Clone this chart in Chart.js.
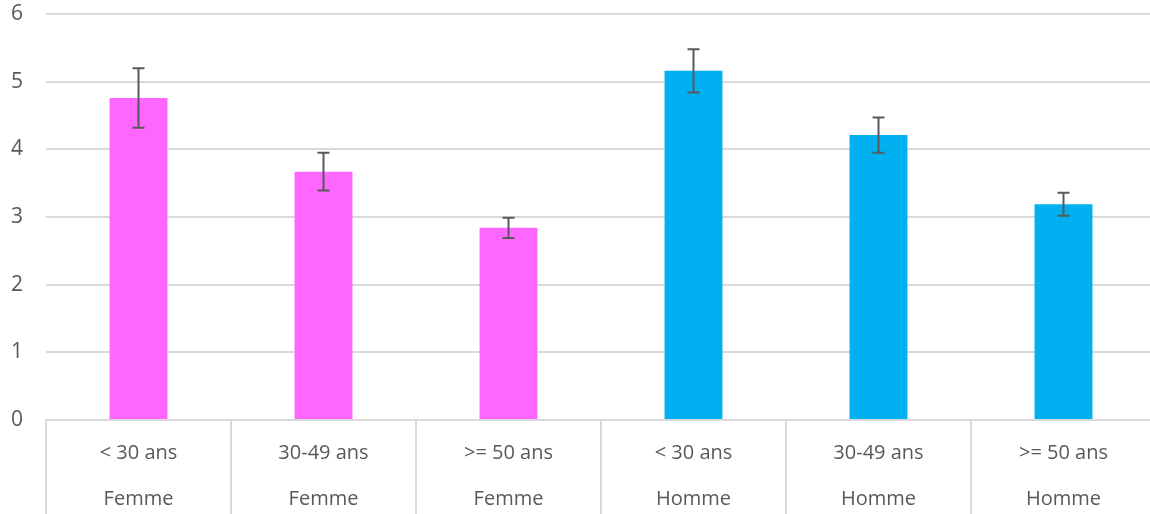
<!DOCTYPE html>
<html>
<head>
<meta charset="utf-8">
<script src="https://cdn.jsdelivr.net/npm/chart.js@4/dist/chart.umd.min.js"></script>
<style>
    body { margin: 0; background: #fff; overflow: hidden; }
    #wrap { width: 1157px; height: 514px; }
</style>
</head>
<body>
<div id="wrap"><canvas id="myChart" width="1157" height="514"></canvas></div>
<script>
// DATA
const ageGroups = ["< 30 ans", "30-49 ans", ">= 50 ans", "< 30 ans", "30-49 ans", ">= 50 ans"];
const sexes = ["Femme", "Femme", "Femme", "Homme", "Homme", "Homme"];
const values = [4.76, 3.67, 2.84, 5.16, 4.21, 3.19];
const errors = [0.44, 0.28, 0.15, 0.32, 0.26, 0.17];
const barColors = ["#FF66FF", "#FF66FF", "#FF66FF", "#00B0F0", "#00B0F0", "#00B0F0"];
const yTicks = [0, 1, 2, 3, 4, 5, 6];

const labels = ageGroups.map((a, i) => [a, sexes[i]]);

// ERROR BARS
const errorBars = {
    id: "errorBars",
    afterDatasetsDraw(chart) {
        const ctx = chart.ctx;
        const yScale = chart.scales.y;
        const meta = chart.getDatasetMeta(0);
        ctx.save();
        ctx.strokeStyle = "#595959";
        ctx.lineWidth = 2;
        meta.data.forEach((bar, i) => {
            const top = yScale.getPixelForValue(values[i] + errors[i]);
            const bottom = yScale.getPixelForValue(values[i] - errors[i]);
            ctx.beginPath();
            ctx.moveTo(bar.x, top);
            ctx.lineTo(bar.x, bottom);
            ctx.moveTo(bar.x - 6, top);
            ctx.lineTo(bar.x + 6, top);
            ctx.moveTo(bar.x - 6, bottom);
            ctx.lineTo(bar.x + 6, bottom);
            ctx.stroke();
        });
        ctx.restore();
    }
};

const ctx = document.getElementById("myChart").getContext("2d");

new Chart(ctx, {
    type: "bar",
    data: {
        labels: labels,
        datasets: [{
            data: values,
            backgroundColor: barColors,
            borderWidth: 0,
            categoryPercentage: 1,
            barPercentage: 0.313
        }]
    },
    options: {
        responsive: false,
        animation: false,
        layout: { padding: { top: 14, right: 1, left: 0, bottom: 0 } },
        plugins: {
            legend: { display: false },
            tooltip: { enabled: false }
        },
        scales: {
            x: {
                afterFit: (scale) => { scale.height = 94; },
                grid: {
                    offset: true,
                    drawOnChartArea: false,
                    tickLength: 94,
                    color: "#d9d9d9",
                    lineWidth: 2
                },
                border: { color: "#d9d9d9", width: 2 },
                ticks: {
                    padding: -84,
                    color: "#595959",
                    font: { family: "Open Sans", size: 20, lineHeight: 2.32 }
                }
            },
            y: {
                min: 0,
                max: 6,
                afterFit: (scale) => { scale.width = 46; },
                afterBuildTicks: (scale) => { scale.ticks = yTicks.map(v => ({ value: v })); },
                grid: {
                    tickLength: 23,
                    tickColor: "rgba(0,0,0,0)",
                    color: "#d9d9d9",
                    lineWidth: 2
                },
                border: { display: false },
                ticks: {
                    padding: 0,
                    color: "#595959",
                    font: { family: "Open Sans", size: 21 }
                }
            }
        }
    },
    plugins: [errorBars]
});
</script>
</body>
</html>
